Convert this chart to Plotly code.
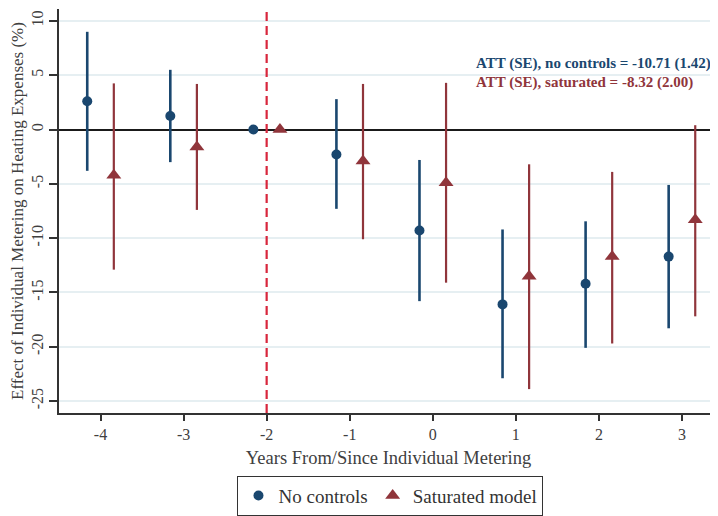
import plotly.graph_objects as go

# ---- data ----
event_time = [-4, -3, -2, -1, 0, 1, 2, 3]

nc_est = [2.6, 1.25, 0.0, -2.3, -9.3, -16.1, -14.2, -11.7]
nc_lo = [-3.8, -3.0, 0.0, -7.3, -15.8, -22.9, -20.1, -18.3]
nc_hi = [9.0, 5.5, 0.0, 2.8, -2.8, -9.2, -8.45, -5.1]

sat_est = [-4.2, -1.6, 0.0, -2.9, -4.9, -13.5, -11.7, -8.3]
sat_lo = [-12.9, -7.4, 0.0, -10.1, -14.1, -23.9, -19.7, -17.2]
sat_hi = [4.25, 4.2, 0.0, 4.2, 4.3, -3.2, -3.9, 0.4]

series_names = ["No controls", "Saturated model"]
x_ticks = [-4, -3, -2, -1, 0, 1, 2, 3]
x_ticklabels = ["-4", "-3", "-2", "-1", "0", "1", "2", "3"]
y_ticks = [10, 5, 0, -5, -10, -15, -20, -25]
y_ticklabels = ["10", "5", "0", "-5", "-10", "-15", "-20", "-25"]
att_lines = ["ATT (SE), no controls = -10.71 (1.42)",
             "ATT (SE), saturated = -8.32 (2.00)"]
att_y = [6.05, 4.35]
x_title = "Years From/Since Individual Metering"
y_title = "Effect of Individual Metering on Heating Expenses (%)"
treat_line_x = -2

# ---- style ----
NAVY = "#1a476f"
MAROON = "#90353b"
DODGE = 0.16
FONT = "Liberation Serif"

fig = go.Figure()

def add_series(est, lo, hi, offset, name, color, symbol, size, thick):
    xs = [t + offset for t in event_time]
    fig.add_trace(go.Scatter(
        x=xs, y=est, mode="markers", name=name,
        marker=dict(color=color, symbol=symbol, size=size, line=dict(width=0)),
        error_y=dict(type="data", symmetric=False,
                     array=[h - e for h, e in zip(hi, est)],
                     arrayminus=[e - l for e, l in zip(est, lo)],
                     color=color, thickness=thick, width=0),
    ))

add_series(nc_est, nc_lo, nc_hi, -DODGE, series_names[0], NAVY, "circle", 10, 2.6)
add_series(sat_est, sat_lo, sat_hi, DODGE, series_names[1], MAROON, "triangle-up", 13, 2.2)

# treatment reference line
fig.add_vline(x=treat_line_x, line=dict(color="#d8263c", width=2.2, dash="9px,5px"), layer="above")

# ATT annotations
for txt, yy, col in zip(att_lines, att_y, [NAVY, MAROON]):
    fig.add_annotation(x=0.498, xref="x", xanchor="left", y=yy, yref="y", yanchor="middle",
                       text="<b>" + txt + "</b>", showarrow=False,
                       font=dict(family=FONT, size=15, color=col))

# The page body has an 8px margin, so the figure is sized/placed to compensate.
fig.update_layout(
    width=710, height=508,
    margin=dict(l=51, r=0, t=1, b=98),
    paper_bgcolor="white", plot_bgcolor="white",
    font=dict(family=FONT, color="#404040", size=16),
    showlegend=True,
    legend=dict(orientation="h", x=0.503, xanchor="center", y=-0.155, yanchor="top",
                bordercolor="#333333", borderwidth=1, font=dict(size=19, color="#333333"),
                traceorder="normal"),
    xaxis=dict(range=[-4.5, 3.434], tickmode="array", tickvals=x_ticks, ticktext=x_ticklabels,
               ticks="outside", ticklen=6, tickwidth=1.5, tickcolor="#333333",
               showline=True, linecolor="#333333", linewidth=2, showgrid=False,
               zeroline=False, tickfont=dict(size=16), automargin=False,
               title=dict(text=x_title, font=dict(size=18.5), standoff=9)),
    yaxis=dict(range=[-26.1, 11.1], tickmode="array", tickvals=y_ticks, ticktext=y_ticklabels,
               ticks="outside", ticklen=8, tickwidth=1.5, tickcolor="#333333",
               showline=True, linecolor="#333333", linewidth=2,
               showgrid=True, gridcolor="#e6eff2", gridwidth=1.5,
               zeroline=True, zerolinecolor="#1a1a1a", zerolinewidth=2.2,
               tickangle=-90, tickfont=dict(size=16), automargin=False,
               title=dict(text=y_title, font=dict(size=17), standoff=1)),
)

fig.write_html("out.html")
